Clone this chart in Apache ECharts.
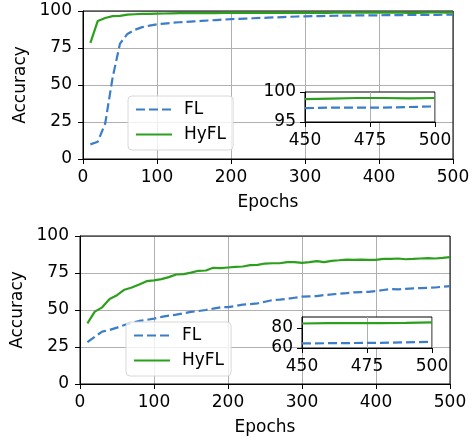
<!DOCTYPE html>
<html>
<head>
<meta charset="utf-8">
<script src="https://cdn.jsdelivr.net/npm/echarts@6/dist/echarts.min.js"></script>
<style>
html,body{margin:0;padding:0;background:#fff;}
#c{width:476px;height:440px;}
</style>
</head>
<body>
<div id="c"></div>
<script>
var epochs = [10,20,30,40,50,60,70,80,90,100,110,120,130,140,150,160,170,180,190,200,
  210,220,230,240,250,260,270,280,290,300,310,320,330,340,350,360,370,380,390,400,
  410,420,430,440,450,460,470,480,490,500];
var xTicks = [0,100,200,300,400,500];
var yTicks = [0,25,50,75,100];

// Top panel
var topFL = [9.9,11.7,24,55,78,84.5,87.3,89.1,90.1,91,91.5,92,92.4,92.7,93,93.3,93.6,93.9,94.2,94.5,
  94.7,94.9,95.1,95.3,95.5,95.7,95.9,96.1,96.3,96.4,96.5,96.6,96.7,96.8,96.9,96.9,97,97,97.1,97.1,
  97.2,97.2,97.2,97.3,97.3,97.4,97.4,97.4,97.5,97.6];
var topHyFL = [78.4,93.3,95.3,96.5,96.7,97.6,97.8,98,98.1,98.2,98.3,98.4,98.5,98.5,98.5,98.6,98.6,98.6,98.7,98.7,
  98.7,98.7,98.7,98.8,98.8,98.8,98.8,98.8,98.8,98.8,98.8,98.8,98.8,98.9,98.9,98.9,98.9,98.9,98.9,98.9,
  98.9,98.9,98.9,98.8,98.8,98.9,99,99,98.95,99];
var topInsetX = [450,475,500];
var topInsetY = [95,100];

// Bottom panel
var botFL = [28.3,32,35.4,36.5,38.1,39.9,41.3,42.6,43.3,44.2,45.3,46.2,46.9,47.8,48.7,49.3,50,50.9,51.8,52,
  52.7,53.6,54,54.5,55.6,56.7,57,57.6,58.3,59,59.2,59.4,60.1,60.5,61,61.4,61.9,62.1,62.3,62.8,
  63.5,64.1,63.9,64.3,64.6,64.8,65,65.2,65.7,66.1];
var botHyFL = [41,48.9,51.8,57.4,60,63.7,65.2,67.3,69.5,70,70.9,72.2,74,74.2,75.3,76.5,76.7,78.5,78.3,78.7,
  79.1,79.4,80.3,80.5,81.4,81.6,81.6,82.3,82.3,81.8,82.3,83,82.3,83.2,83.6,84.1,83.9,84.1,83.9,83.9,
  84.5,84.5,84.8,84.3,84.5,84.8,85,84.8,85.2,85.7];
var botInsetX = [450,475,500];
var botInsetY = [60,80];

var BLUE = '#3b7dc8', GREEN = '#2ca01c';
var FONT = 'DejaVu Sans', FS = 17;
var pairs = function(ys){ return epochs.map(function(e,i){return [e, ys[i]];}); };
var inset = function(ys, lo){ var out=[]; epochs.forEach(function(e,i){ if(e>=lo) out.push([e, ys[i]]); }); return out; };
var txt = {fontFamily:FONT,fontSize:FS,color:'#000'};

function mainX(idx, name){
  return {gridIndex: idx, type:'value', min:xTicks[0], max:xTicks[xTicks.length-1], interval:100,
    name:name, nameLocation:'middle', nameGap:35,
    nameTextStyle:txt,
    axisLine:{show:true,onZero:false,lineStyle:{color:'#000',width:1}},
    axisTick:{show:true,length:5,lineStyle:{color:'#000'}},
    axisLabel:Object.assign({margin:10}, txt),
    splitLine:{show:true,lineStyle:{color:'#b0b0b0',width:1}}};
}
function mainY(idx){
  return {gridIndex: idx, type:'value', min:yTicks[0], max:yTicks[yTicks.length-1], interval:25,
    name:'Accuracy', nameLocation:'middle', nameGap:47,
    nameTextStyle:txt,
    axisLine:{show:true,onZero:false,lineStyle:{color:'#000',width:1}},
    axisTick:{show:true,length:5,lineStyle:{color:'#000'}},
    axisLabel:Object.assign({margin:11}, txt),
    splitLine:{show:true,lineStyle:{color:'#b0b0b0',width:1}}};
}
function insetX(idx, ticks){
  return {gridIndex: idx, type:'value', min:ticks[0], max:ticks[ticks.length-1], interval:25, z:11,
    axisLine:{show:true,onZero:false,lineStyle:{color:'#000',width:1}},
    axisTick:{show:true,length:5,lineStyle:{color:'#000'}},
    axisLabel:Object.assign({margin:10}, txt),
    splitLine:{show:true,lineStyle:{color:'#b0b0b0',width:1}}};
}
function insetY(idx, ticks, max){
  return {gridIndex: idx, type:'value', min:ticks[0], max:max, z:11,
    axisLine:{show:true,onZero:false,lineStyle:{color:'#000',width:1}},
    axisTick:{show:true,length:5,customValues:ticks,lineStyle:{color:'#000'}},
    axisLabel:Object.assign({margin:9,customValues:ticks}, txt),
    splitLine:{show:false}};
}
function line(name, data, xi, yi, color, dashed, z){
  return {name:name, type:'line', xAxisIndex:xi, yAxisIndex:yi, data:data, symbol:'none', z:z||2,
    lineStyle:{color:color, width:2.2, type: dashed ? [9,4] : 'solid'}, itemStyle:{color:color}};
}
function legend(top, left){
  return {data:['FL','HyFL'], orient:'vertical', left:left, top:top, itemWidth:36, itemHeight:14, itemGap:8,
    padding:[5,7,7,7], backgroundColor:'rgba(255,255,255,0.8)', borderColor:'#d8d8d8', borderWidth:1, borderRadius:4,
    itemStyle:{opacity:0},
    textStyle:Object.assign({padding:[0,0,0,7]}, txt)};
}

var chart = echarts.init(document.getElementById('c'), null, {renderer:'canvas'});
chart.setOption({
  animation:false,
  backgroundColor:'#fff',
  grid:[
    {left:83, top:11, width:370, height:148, show:true, borderColor:'#000', borderWidth:1, backgroundColor:'transparent', z:1},
    {left:305, top:92, width:130, height:30, show:true, borderColor:'#000', borderWidth:1, backgroundColor:'#fff', z:10},
    {left:80, top:236, width:370, height:148, show:true, borderColor:'#000', borderWidth:1, backgroundColor:'transparent', z:1},
    {left:302, top:317, width:130, height:31, show:true, borderColor:'#000', borderWidth:1, backgroundColor:'#fff', z:10}
  ],
  xAxis:[mainX(0,'Epochs'), insetX(1, topInsetX), mainX(2,'Epochs'), insetX(3, botInsetX)],
  yAxis:[mainY(0), insetY(1, topInsetY, 100), mainY(2), insetY(3, botInsetY, 91)],
  legend:[legend(96,128), legend(322,126)],
  series:[
    line('FL', pairs(topFL), 0, 0, BLUE, true),
    line('HyFL', pairs(topHyFL), 0, 0, GREEN, false),
    line('FL', inset(topFL,450), 1, 1, BLUE, true, 12),
    line('HyFL', inset(topHyFL,450), 1, 1, GREEN, false, 12),
    line('FL', pairs(botFL), 2, 2, BLUE, true),
    line('HyFL', pairs(botHyFL), 2, 2, GREEN, false),
    line('FL', inset(botFL,450), 3, 3, BLUE, true, 12),
    line('HyFL', inset(botHyFL,450), 3, 3, GREEN, false, 12)
  ]
});
</script>
</body>
</html>
